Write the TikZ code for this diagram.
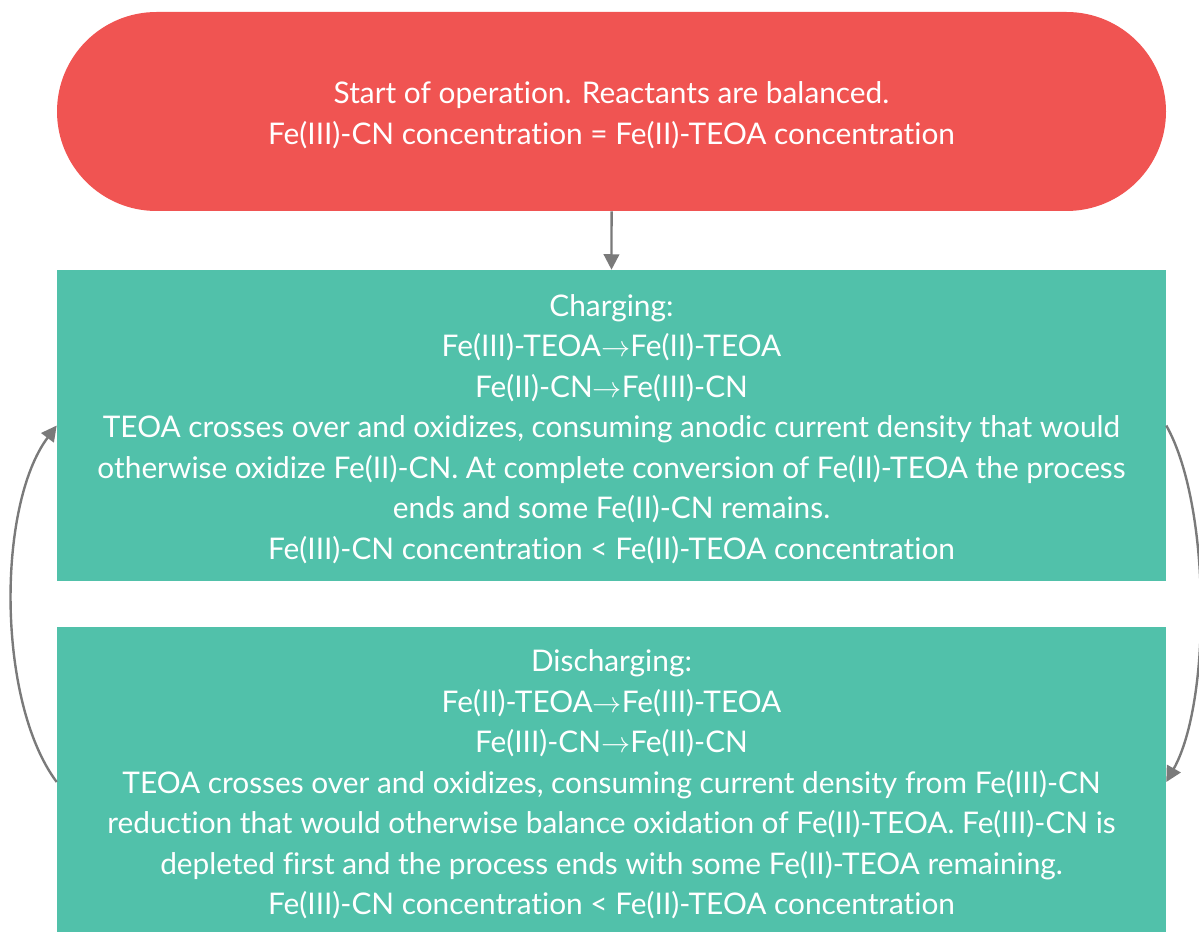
\documentclass[tikz,border=0pt]{standalone}
\usepackage{fontspec}
\setmainfont{Lato}[Ligatures=NoCommon]
\usetikzlibrary{positioning,shapes.misc,arrows.meta}

\definecolor{startred}{HTML}{F05452}
\definecolor{boxteal}{HTML}{51C1AA}
\definecolor{flowgray}{HTML}{7A7A7A}

\newcommand{\tto}{$\rightarrow$}
% centred lines, lowered a little inside their box
\newcommand{\boxtext}[2][3pt]{%
    \raisebox{-#1}[\height][\depth]{\begin{tabular}{@{}c@{}}#2\end{tabular}}}

\begin{document}
\begin{tikzpicture}[x=0.025cm, y=-0.025cm,
        every node/.style={text=white, inner sep=0pt,
            font=\fontsize{21.2pt}{28.8pt}\selectfont},
        startbox/.style={rounded rectangle, fill=startred,
            minimum width=1109*0.025cm, minimum height=199*0.025cm},
        stagebox/.style={rectangle, fill=boxteal,
            minimum width=1109*0.025cm, minimum height=311*0.025cm},
        flow/.style={draw=flowgray, line width=1.7pt,
            -{Triangle[length=11pt, width=11pt]}}]

    \clip (0,0) rectangle (1199,932);
    \useasboundingbox (0,0) rectangle (1199,932);

    \node[startbox] (start) at (611.5,111.5)
        {\boxtext[3.2pt]{Start of operation. Reactants are balanced.\\
         Fe(III)-CN concentration = Fe(II)-TEOA concentration}};

    \node[stagebox] (charge) at (611.5,425.5)
        {\boxtext[2.9pt]{Charging:\\
         Fe(III)-TEOA\tto Fe(II)-TEOA\\
         Fe(II)-CN\tto Fe(III)-CN\\
         TEOA crosses over and oxidizes, consuming anodic current density that would\\
         otherwise oxidize Fe(II)-CN. At complete conversion of Fe(II)-TEOA the process\\
         ends and some Fe(II)-CN remains.\\
         Fe(III)-CN concentration < Fe(II)-TEOA concentration}};

    \node[stagebox] (discharge) at (611.5,782)
        {\boxtext[2.2pt]{Discharging:\\
         Fe(II)-TEOA\tto Fe(III)-TEOA\\
         Fe(III)-CN\tto Fe(II)-CN\\
         TEOA crosses over and oxidizes, consuming current density from Fe(III)-CN\\
         reduction that would otherwise balance oxidation of Fe(II)-TEOA. Fe(III)-CN is\\
         depleted first and the process ends with some Fe(II)-TEOA remaining.\\
         Fe(III)-CN concentration < Fe(II)-TEOA concentration}};

    % connectors
    \draw[flow] (start) -- (charge);
    \draw[flow] (discharge.west) .. controls +(-60,-80) and +(-60,80) .. (charge.west);
    \draw[flow] (charge.east) .. controls +(45,80) and +(45,-80) .. (discharge.east);

\end{tikzpicture}
\end{document}
